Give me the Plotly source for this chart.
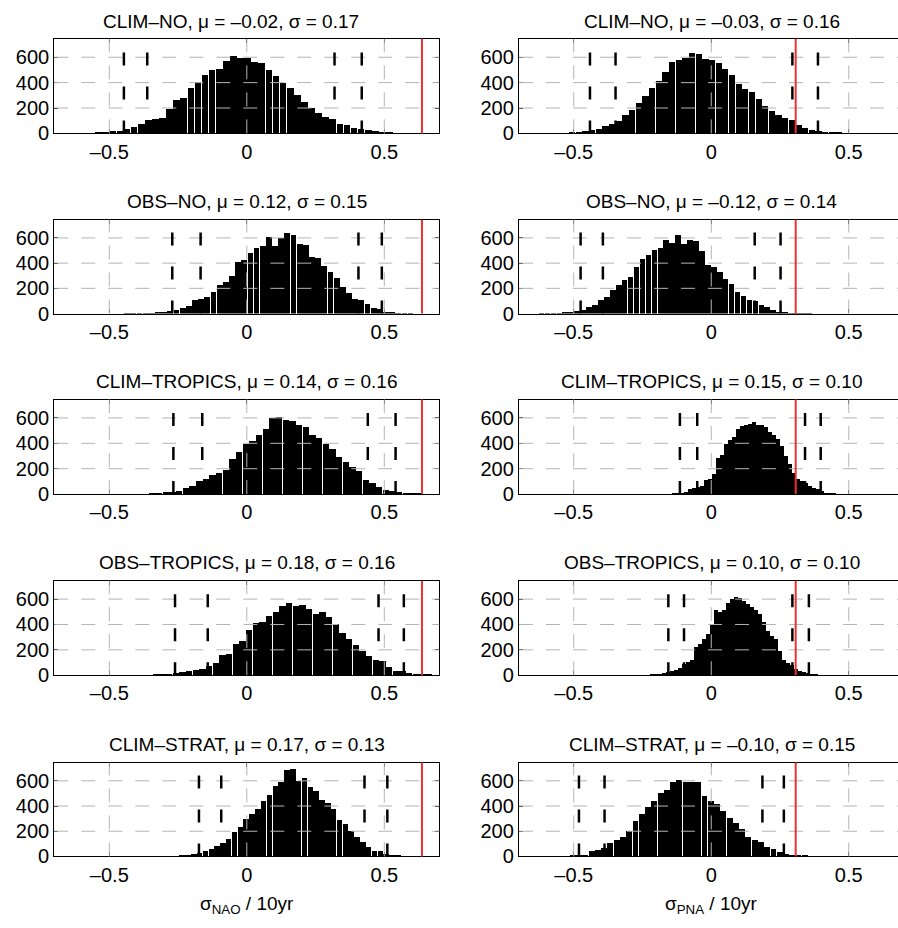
import plotly.graph_objects as go

W, H = 898, 928

# ---------------- data ----------------
titles = [
    "CLIM–NO, μ = –0.02, σ = 0.17", "CLIM–NO, μ = –0.03, σ = 0.16",
    "OBS–NO, μ = 0.12, σ = 0.15", "OBS–NO, μ = –0.12, σ = 0.14",
    "CLIM–TROPICS, μ = 0.14, σ = 0.16", "CLIM–TROPICS, μ = 0.15, σ = 0.10",
    "OBS–TROPICS, μ = 0.18, σ = 0.16", "OBS–TROPICS, μ = 0.10, σ = 0.10",
    "CLIM–STRAT, μ = 0.17, σ = 0.13", "CLIM–STRAT, μ = –0.10, σ = 0.15",
]
xlabels = ["σ<sub>NAO</sub> / 10yr", "σ<sub>PNA</sub> / 10yr"]
obs_nao = 0.637
obs_pna = 0.307

x_tickvals = [-0.5, 0, 0.5]
x_ticktext = ["–0.5", "0", "0.5"]
y_tickvals = [0, 200, 400, 600]
y_ticktext = ["0", "200", "400", "600"]

# histogram bins: first bin edge, bin width, counts
clim_no_nao_start, clim_no_nao_width = -0.628, 0.0258
clim_no_nao_counts = [1, 2, 3, 5, 10, 18, 20, 34, 55, 78, 104, 117, 122, 195, 265, 278, 356, 408, 465, 501,
                      512, 574, 610, 595, 598, 567, 559, 501, 454, 395, 356, 304, 252, 200, 164, 130, 117, 78,
                      65, 44, 34, 26, 18, 10, 6, 4, 2, 1, 1]
clim_no_pna_start, clim_no_pna_width = -0.590, 0.0242
clim_no_pna_counts = [1, 2, 3, 5, 10, 18, 31, 39, 60, 78, 96, 148, 187, 242, 299, 356, 416, 486, 564, 577,
                      597, 631, 623, 590, 579, 558, 506, 460, 390, 351, 325, 273, 216, 174, 143, 122, 104, 70,
                      44, 31, 21, 16, 8, 5, 3, 2, 1]
obs_no_nao_start, obs_no_nao_width = -0.445, 0.0224
obs_no_nao_counts = [1, 2, 3, 4, 6, 10, 18, 23, 31, 49, 62, 109, 122, 135, 174, 226, 252, 304, 408, 426,
                     486, 525, 538, 608, 538, 603, 642, 629, 551, 546, 452, 442, 382, 330, 286, 213, 166, 122,
                     109, 78, 44, 36, 18, 13, 5, 3, 1]
obs_no_pna_start, obs_no_pna_width = -0.628, 0.0216
obs_no_pna_counts = [1, 2, 4, 6, 10, 18, 21, 31, 57, 70, 114, 130, 187, 226, 265, 291, 369, 434, 468, 504,
                     525, 590, 564, 623, 556, 590, 577, 499, 390, 369, 330, 278, 234, 174, 140, 114, 104, 70,
                     52, 31, 18, 10, 6, 4, 2, 1]
clim_trop_nao_start, clim_trop_nao_width = -0.4265, 0.02424
clim_trop_nao_counts = [1, 2, 4, 6, 10, 18, 21, 26, 52, 70, 109, 125, 156, 169, 195, 281, 338, 395, 421, 468,
                        514, 603, 610, 584, 577, 545, 532, 473, 442, 395, 358, 299, 260, 221, 182, 117, 91, 57,
                        39, 31, 21, 16, 10, 5]
clim_trop_pna_start, clim_trop_pna_width = -0.1865, 0.01455
clim_trop_pna_counts = [2, 3, 4, 5, 8, 15, 20, 40, 48, 58, 66, 112, 125, 160, 286, 312, 400, 430, 452, 519,
                        538, 550, 556, 575, 545, 548, 535, 495, 470, 434, 380, 300, 240, 169, 125, 110, 90, 70,
                        55, 40, 25, 15, 10, 6, 3, 2, 1]
obs_trop_nao_start, obs_trop_nao_width = -0.4145, 0.02424
obs_trop_nao_counts = [1, 2, 3, 5, 8, 13, 18, 31, 39, 44, 52, 78, 96, 164, 169, 247, 268, 356, 416, 423,
                       468, 501, 545, 571, 545, 558, 527, 481, 501, 460, 403, 338, 286, 242, 195, 156, 122, 112,
                       65, 39, 34, 18, 13, 8, 4, 2]
obs_trop_pna_start, obs_trop_pna_width = -0.2509, 0.01455
obs_trop_pna_counts = [2, 3, 5, 8, 12, 18, 25, 34, 44, 60, 90, 110, 125, 221, 252, 290, 330, 400, 519, 501,
                       519, 570, 605, 616, 610, 584, 565, 540, 520, 486, 420, 350, 310, 290, 195, 125, 100, 80,
                       52, 39, 28, 18, 10, 6, 3, 2, 1]
clim_strat_nao_start, clim_strat_nao_width = -0.372, 0.0212
clim_strat_nao_counts = [1, 1, 2, 3, 4, 5, 8, 13, 21, 31, 47, 65, 83, 109, 143, 195, 239, 299, 338, 377,
                         442, 494, 566, 592, 690, 696, 603, 629, 558, 519, 455, 429, 377, 291, 260, 208, 156, 117,
                         78, 44, 47, 21, 16, 10, 5, 2]
clim_strat_pna_start, clim_strat_pna_width = -0.606, 0.0228
clim_strat_pna_counts = [1, 2, 3, 5, 8, 13, 18, 44, 57, 73, 109, 130, 161, 208, 286, 338, 395, 447, 506, 532,
                         597, 610, 597, 592, 592, 481, 442, 416, 364, 312, 265, 221, 156, 135, 117, 78, 65, 39,
                         21, 16, 10, 13, 5, 3, 2, 1]

# 0.5%, 2.5%, 97.5%, 99.5% percentiles (dashed black lines)
clim_no_nao_pct = [-0.447, -0.362, 0.319, 0.418]
clim_no_pna_pct = [-0.441, -0.348, 0.295, 0.388]
obs_no_nao_pct = [-0.271, -0.168, 0.406, 0.491]
obs_no_pna_pct = [-0.475, -0.394, 0.158, 0.252]
clim_trop_nao_pct = [-0.267, -0.162, 0.440, 0.541]
clim_trop_pna_pct = [-0.114, -0.051, 0.341, 0.398]
obs_trop_nao_pct = [-0.261, -0.142, 0.479, 0.571]
obs_trop_pna_pct = [-0.156, -0.099, 0.295, 0.355]
clim_strat_nao_pct = [-0.174, -0.093, 0.428, 0.511]
clim_strat_pna_pct = [-0.481, -0.388, 0.186, 0.264]

panels = [
    (clim_no_nao_start, clim_no_nao_width, clim_no_nao_counts, clim_no_nao_pct, obs_nao),
    (clim_no_pna_start, clim_no_pna_width, clim_no_pna_counts, clim_no_pna_pct, obs_pna),
    (obs_no_nao_start, obs_no_nao_width, obs_no_nao_counts, obs_no_nao_pct, obs_nao),
    (obs_no_pna_start, obs_no_pna_width, obs_no_pna_counts, obs_no_pna_pct, obs_pna),
    (clim_trop_nao_start, clim_trop_nao_width, clim_trop_nao_counts, clim_trop_nao_pct, obs_nao),
    (clim_trop_pna_start, clim_trop_pna_width, clim_trop_pna_counts, clim_trop_pna_pct, obs_pna),
    (obs_trop_nao_start, obs_trop_nao_width, obs_trop_nao_counts, obs_trop_nao_pct, obs_nao),
    (obs_trop_pna_start, obs_trop_pna_width, obs_trop_pna_counts, obs_trop_pna_pct, obs_pna),
    (clim_strat_nao_start, clim_strat_nao_width, clim_strat_nao_counts, clim_strat_nao_pct, obs_nao),
    (clim_strat_pna_start, clim_strat_pna_width, clim_strat_pna_counts, clim_strat_pna_pct, obs_pna),
]

# ---------------- layout geometry (pixels) ----------------
col_px = [(54.3, 439.3), (519.0, 898.0)]
col_center_px = [246.8, 711.5]
col_range = [[-0.70, 0.70], [-0.699, 0.679]]
row_px = [(39.3, 135.0), (222.3, 317.3), (404.3, 500.0), (587.7, 683.3), (771.7, 866.7)]
y_range = [0, 745]
title_dx = [-16, 0, 0, 0, 0, 0, 0, 0, 0, 0]

FONT = "Liberation Sans, Arial, Helvetica, sans-serif"
fig = go.Figure()
shapes = []
annotations = []
layout_axes = {}


def px_x(p):
    return p / W


def px_y(p):
    return 1 - p / H


for i, (start, width, counts, pct, obs) in enumerate(panels):
    r, c = divmod(i, 2)
    n = i + 1
    xa = "x" if n == 1 else f"x{n}"
    ya = "y" if n == 1 else f"y{n}"
    centers = [start + (k + 0.5) * width for k in range(len(counts))]
    fig.add_trace(go.Bar(
        x=centers, y=counts, width=[width * 0.94] * len(counts),
        marker=dict(color="black", line=dict(width=0)),
        xaxis=xa, yaxis=ya, showlegend=False, hoverinfo="x+y",
    ))
    x0p, x1p = col_px[c]
    ytop, ybot = row_px[r]
    axis_common = dict(showline=True, linecolor="black", linewidth=1.3,
                       ticks="inside", ticklen=4, tickcolor="black", tickwidth=1,
                       showgrid=False, zeroline=False,
                       tickfont=dict(family=FONT, size=20, color="black"))
    layout_axes["xaxis" if n == 1 else f"xaxis{n}"] = dict(
        domain=[px_x(x0p), px_x(x1p)], range=col_range[c], anchor=ya, mirror="ticks",
        tickvals=x_tickvals, ticktext=x_ticktext, **axis_common)
    layout_axes["yaxis" if n == 1 else f"yaxis{n}"] = dict(
        domain=[px_y(ybot), px_y(ytop)], range=y_range, anchor=xa,
        mirror="ticks" if c == 0 else False,
        tickvals=y_tickvals, ticktext=y_ticktext, **axis_common)

    # grid on top of bars
    for gv in x_tickvals:
        shapes.append(dict(type="line", xref=xa, yref=f"{ya} domain", x0=gv, x1=gv, y0=0, y1=1,
                           line=dict(color="#b4b4b4", width=1, dash="14px,13px"), layer="above"))
    for gv in y_tickvals[1:]:
        shapes.append(dict(type="line", xref=f"{xa} domain", yref=ya, x0=0, x1=1, y0=gv, y1=gv,
                           line=dict(color="#b4b4b4", width=1, dash="14px,13px"), layer="above"))
    # percentile lines
    for pv in pct:
        shapes.append(dict(type="line", xref=xa, yref=ya, x0=pv, x1=pv, y0=0, y1=y_range[1],
                           line=dict(color="black", width=2.5, dash="13px,21px"), layer="above"))
    # observed value
    shapes.append(dict(type="line", xref=xa, yref=f"{ya} domain", x0=obs, x1=obs, y0=0, y1=1,
                       line=dict(color="#ee3030", width=2), layer="above"))
    # title
    annotations.append(dict(text=titles[i], xref="paper", yref="paper",
                            x=px_x(col_center_px[c] + title_dx[i]),
                            y=px_y(ytop - 18), xanchor="center", yanchor="middle", showarrow=False,
                            font=dict(family=FONT, size=19, color="black")))

for c in range(2):
    annotations.append(dict(text=xlabels[c], xref="paper", yref="paper", x=px_x(col_center_px[c]),
                            y=px_y(916), xanchor="center", yanchor="middle", showarrow=False,
                            font=dict(family=FONT, size=19, color="black")))

fig.update_layout(
    width=W, height=H, margin=dict(l=0, r=0, t=0, b=0),
    paper_bgcolor="white", plot_bgcolor="white",
    shapes=shapes, annotations=annotations, bargap=0,
    font=dict(family=FONT, size=19, color="black"),
    **layout_axes,
)

fig.write_html("out.html",
               config={"displayModeBar": False},
               post_script="document.body.style.margin='0';document.body.style.padding='0';"
                           "document.body.style.overflow='hidden';")
